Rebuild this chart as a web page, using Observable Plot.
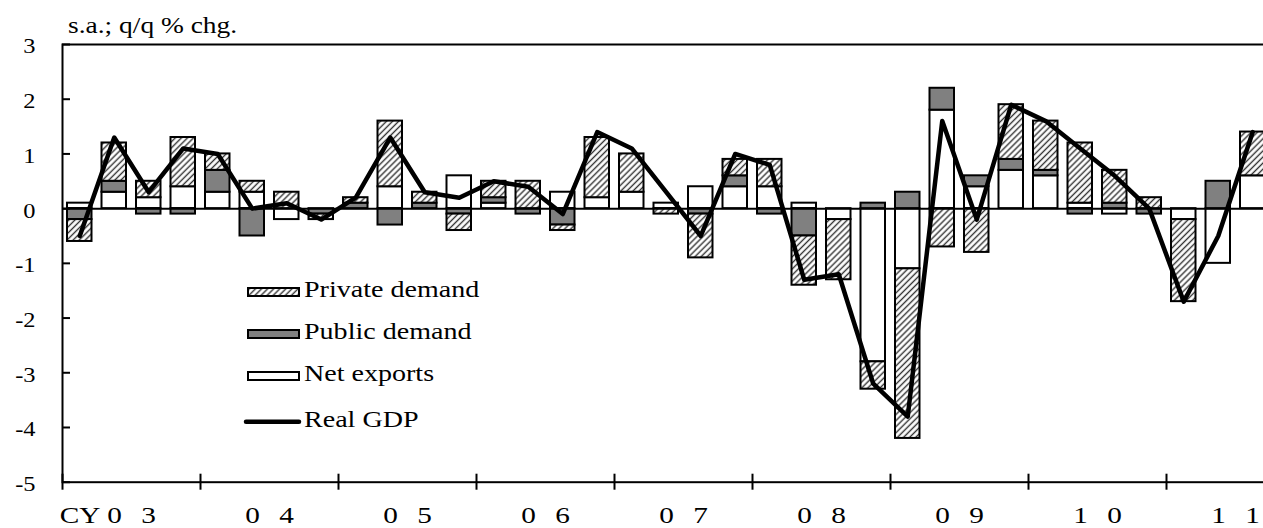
<!DOCTYPE html>
<html>
<head>
<meta charset="utf-8">
<script src="https://cdn.jsdelivr.net/npm/d3@7"></script>
<script src="https://cdn.jsdelivr.net/npm/@observablehq/plot@0.6"></script>
<style>
  html, body { margin: 0; padding: 0; background: #fff; overflow: hidden; }
  #chart { width: 1263px; height: 528px; }
</style>
</head>
<body>
<div id="chart"></div>
<script>
// ---- Data (s.a.; q/q % chg., contributions) ----
const quarters = [
  "2003Q1","2003Q2","2003Q3","2003Q4",
  "2004Q1","2004Q2","2004Q3","2004Q4",
  "2005Q1","2005Q2","2005Q3","2005Q4",
  "2006Q1","2006Q2","2006Q3","2006Q4",
  "2007Q1","2007Q2","2007Q3","2007Q4",
  "2008Q1","2008Q2","2008Q3","2008Q4",
  "2009Q1","2009Q2","2009Q3","2009Q4",
  "2010Q1","2010Q2","2010Q3","2010Q4",
  "2011Q1","2011Q2","2011Q3"
];
const netExports = [
  0.1, 0.3, 0.2, 0.4,
  0.3, 0.3, -0.2, 0.0,
  0.0, 0.4, 0.0, 0.6,
  0.1, 0.0, 0.3, 0.2,
  0.3, 0.1, 0.4, 0.4,
  0.4, 0.1, -0.2, -2.8,
  -1.1, 1.8, 0.4, 0.7,
  0.6, 0.1, -0.1, 0.0,
  -0.2, -1.0, 0.6
];
const publicDemand = [
  -0.2, 0.2, -0.1, -0.1,
  0.4, -0.5, 0.0, -0.1,
  0.1, -0.3, 0.1, -0.1,
  0.1, -0.1, -0.3, 0.0,
  0.0, 0.0, -0.1, 0.2,
  -0.1, -0.5, 0.0, 0.1,
  0.3, 0.4, 0.2, 0.2,
  0.1, -0.1, 0.1, -0.1,
  0.0, 0.5, 0.0
];
const privateDemand = [
  -0.4, 0.7, 0.3, 0.9,
  0.3, 0.2, 0.3, -0.1,
  0.1, 1.2, 0.2, -0.3,
  0.3, 0.5, -0.1, 1.1,
  0.7, -0.1, -0.8, 0.3,
  0.5, -0.9, -1.1, -0.5,
  -3.1, -0.7, -0.8, 1.0,
  0.9, 1.1, 0.6, 0.2,
  -1.5, 0.0, 0.8
];
const realGDP = [
  -0.5, 1.3, 0.3, 1.1,
  1.0, 0.0, 0.1, -0.2,
  0.2, 1.3, 0.3, 0.2,
  0.5, 0.4, -0.1, 1.4,
  1.1, 0.3, -0.5, 1.0,
  0.8, -1.3, -1.2, -3.2,
  -3.8, 1.6, -0.2, 1.9,
  1.6, 1.1, 0.6, 0.0,
  -1.7, -0.5, 1.4
];
const yearLabels = ["03","04","05","06","07","08","09","10","11"];
const yTicks = [-5, -4, -3, -2, -1, 0, 1, 2, 3];
const seriesNames = ["Net exports", "Public demand", "Private demand"];
const seriesFills = ["white", "#808080", "url(#hatch)"];
const titleText = "s.a.; q/q % chg.";
const axisPrefix = "CY";

// ---- Tables built from the arrays ----
const seriesArrays = [netExports, publicDemand, privateDemand];
const rows = [];
quarters.forEach((q, i) => {
  seriesArrays.forEach((arr, k) => {
    if (arr[i] !== 0) rows.push({ i, q, series: seriesNames[k], value: arr[i] });
  });
});
const gdp = quarters.map((q, i) => ({ i, q, value: realGDP[i] }));
const years = yearLabels.map((lab, k) => ({ lab, start: 4 * k, mid: 4 * k + 2 }));

const FONT = "'Liberation Serif','Times New Roman',Times,serif";
const TEXT_STRETCH = 1.22; // the reference's glyphs are drawn wider than they are tall

const chart = Plot.plot({
  width: 1263,
  height: 528,
  marginLeft: 62,
  marginRight: -6.5,
  marginTop: 44,
  marginBottom: 46.3,
  x: { domain: [0, quarters.length], axis: null },
  y: { domain: [-5, 3] },
  color: { domain: seriesNames, range: seriesFills },
  style: { fontFamily: FONT, background: "white", color: "black" },
  marks: [
    Plot.rectY(rows, {
      x1: d => d.i, x2: d => d.i + 1, y: "value",
      fill: "series", stroke: "black", strokeWidth: 2,
      insetLeft: 5, insetRight: 5
    }),
    Plot.ruleY([0], { stroke: "black", strokeWidth: 2 }),
    Plot.line(gdp, { x: d => d.i + 0.5, y: "value", stroke: "black", strokeWidth: 4.5 }),
    Plot.frame({ stroke: "black", strokeWidth: 2 }),
    Plot.ruleY(yTicks, { y: d => d, x1: 0, x2: 0, insetRight: -8, stroke: "black", strokeWidth: 2 }),
    Plot.ruleX(years, { x: "start", y1: -5, y2: -5, insetTop: -8, insetBottom: -8, stroke: "black", strokeWidth: 2 }),
    Plot.axisY(yTicks, { tickSize: 0, tickPadding: 27, tickFormat: d => String(d), fontSize: 20, label: null, dy: 2.5, fill: "black" }),
    Plot.text(years, { x: "mid", y: -5, text: d => d.lab[0], dx: -17, dy: 33, fontSize: 24, fill: "black" }),
    Plot.text(years, { x: "mid", y: -5, text: d => d.lab[1], dx: 17, dy: 33, fontSize: 24, fill: "black" }),
    Plot.text(years.slice(0, 1), { x: "mid", y: -5, text: () => axisPrefix, dx: -31, dy: 33, fontSize: 24, textAnchor: "end", fill: "black" })
  ]
});
document.getElementById("chart").appendChild(chart);

// ---- Hatch pattern, title and legend ----
const svg = d3.select(chart);
const defs = svg.insert("defs", ":first-child");
const pat = defs.append("pattern")
  .attr("id", "hatch")
  .attr("patternUnits", "userSpaceOnUse")
  .attr("width", 4.3).attr("height", 4.3)
  .attr("patternTransform", "rotate(45)");
pat.append("rect").attr("width", 4.3).attr("height", 4.3).attr("fill", "white");
pat.append("line").attr("x1", 2.15).attr("y1", 0).attr("x2", 2.15).attr("y2", 4.3)
  .attr("stroke", "#333").attr("stroke-width", 1.4);

svg.append("text")
  .attr("x", 68).attr("y", 33.5)
  .attr("text-anchor", "start")
  .attr("font-family", FONT).attr("font-size", 22.5)
  .attr("fill", "black")
  .text(titleText);

const legendItems = [
  { name: "Private demand", kind: "rect", fill: seriesFills[2], cy: 292 },
  { name: "Public demand", kind: "rect", fill: seriesFills[1], cy: 334 },
  { name: "Net exports", kind: "rect", fill: seriesFills[0], cy: 376 },
  { name: "Real GDP", kind: "line", cy: 421.7 }
];
const lg = svg.append("g");
legendItems.forEach(it => {
  if (it.kind === "rect") {
    lg.append("rect").attr("x", 248).attr("y", it.cy - 4).attr("width", 51).attr("height", 8)
      .attr("fill", it.fill).attr("stroke", "black").attr("stroke-width", 2);
  } else {
    lg.append("line").attr("x1", 246).attr("x2", 299).attr("y1", it.cy).attr("y2", it.cy)
      .attr("stroke", "black").attr("stroke-width", 4.5).attr("stroke-linecap", "round");
  }
  lg.append("text").attr("x", 304).attr("y", it.cy + 5.5)
    .attr("text-anchor", "start")
    .attr("font-family", FONT).attr("font-size", 23)
    .attr("fill", "black").text(it.name);
});

// Stretch every text horizontally about its own anchor point (vertical attributes untouched)
svg.selectAll("text").each(function () {
  const el = this;
  const x = el.getAttribute("x");
  let t = el.getAttribute("transform") || "";
  if (x != null && isFinite(+x)) {
    t += ` translate(${+x},0)`;
    el.removeAttribute("x");
  }
  t += ` scale(${TEXT_STRETCH},1)`;
  el.setAttribute("transform", t.trim());
});
</script>
</body>
</html>
